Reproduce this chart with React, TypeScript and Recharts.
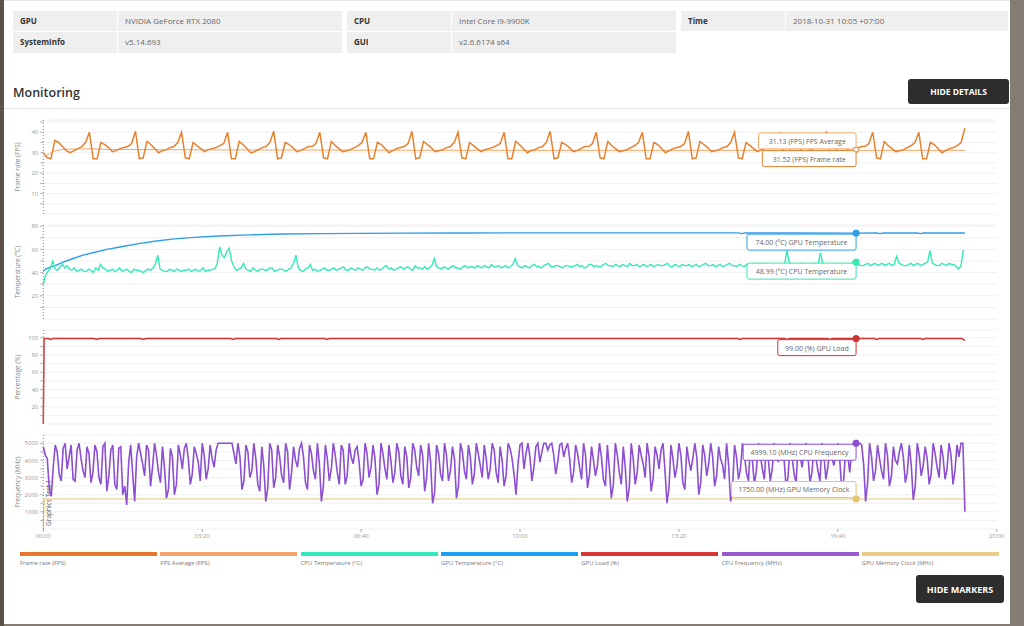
import React from "react";
import { LineChart, Line, XAxis, YAxis, CartesianGrid, ReferenceDot, ReferenceLine } from "recharts";

const FONT = '"Open Sans", "Noto Sans", sans-serif';

// header table
const infoLabels = [["GPU", "CPU", "Time"], ["SystemInfo", "GUI"]];
const infoValues = [["NVIDIA GeForce RTX 2080", "Intel Core i9-9900K", "2018-10-31 10:05 +07:00"], ["v5.14.693", "v2.6.6174 s64"]];

// time axis, seconds
const timeTicks = [0, 200, 400, 600, 800, 1000, 1200];
const markerTime = 1023;

// frame rate, one sample every 58/12 s
const fpsStep = 58 / 12;
const frameRate = [
  30, 27.5, 27, 36, 35, 33, 31, 30, 31, 32, 33, 35,
  40, 27, 27, 35, 34, 32.5, 30.5, 31, 32, 32.5, 33, 34.5,
  40.5, 27, 27.5, 35.5, 34, 32, 30, 31, 31.5, 32.5, 33, 35,
  40, 27.5, 27, 35, 33.5, 32, 30.5, 31.5, 32, 32.5, 33.5, 34.5,
  40, 27, 27, 35.5, 34, 32, 30, 30.5, 31.5, 32.5, 33, 35,
  40.5, 27, 27.5, 35, 34, 32.5, 30.5, 31, 32, 33, 33, 34.5,
  40, 27.5, 27, 35.5, 33.5, 32, 30.5, 31, 31.5, 32.5, 33.5, 35,
  40, 27, 27, 35, 34, 32, 30, 31, 32, 32.5, 33, 34.5,
  40.5, 27, 27.5, 35.5, 34, 32.5, 30.5, 31, 31.5, 32.5, 33, 35,
  40, 27.5, 27, 35, 33.5, 32, 30.5, 31.5, 32, 32.5, 33.5, 34.5,
  40, 27, 27, 35.5, 34, 32, 30, 31, 31.5, 32.5, 33, 35,
  40.5, 27, 27.5, 35, 34, 32.5, 30.5, 31, 32, 33, 33, 34.5,
  40, 27.5, 27, 35.5, 33.5, 32, 30.5, 31, 31.5, 32.5, 33.5, 35,
  40, 27, 27, 35, 34, 32, 30, 31, 32, 32.5, 33, 34.5,
  40.5, 27, 27.5, 35.5, 34, 32.5, 30.5, 31, 31.5, 32.5, 33, 35,
  40, 27.5, 27, 35, 33.5, 32, 30.5, 31.5, 32, 32.5, 33.5, 34.5,
  40, 27, 27, 35.5, 34, 32, 30, 31, 31.5, 32.5, 33, 35,
  40.5, 27, 27.5, 35, 34, 32.5, 30.5, 31, 32, 33, 33, 34.5,
  40, 27.5, 27, 35.5, 33.5, 32, 30.5, 31, 31.5, 32.5, 33.5, 35,
  40, 27, 27, 35, 34, 32, 30, 31, 32, 32.5, 33.5, 35,
  42,
];

const fpsAvgTime = [0, 3, 8, 15, 25, 40, 60, 80, 120, 200, 300, 450, 600, 800, 1023, 1160];
const fpsAvg = [30, 28.5, 29.5, 31, 31.6, 31.8, 31.9, 31.6, 31.5, 31.4, 31.3, 31.2, 31.15, 31.15, 31.13, 31.15];

// cpu temperature, one sample every 3 s (one line per minute)
const cpuTempStep = 3;
const cpuTemp = [
  30, 38, 41, 44, 50, 43, 42, 45, 47, 44, 46, 43, 42, 44, 41, 42, 43, 41, 41, 43,
  42, 40, 44, 42, 47, 44, 43, 41, 42, 43, 41, 42, 44, 41, 42, 43, 41, 40, 43, 42,
  42, 41, 40, 42, 43, 42, 44, 47, 55, 43, 42, 41, 41, 43, 42, 41, 43, 42, 41, 42,
  42, 43, 41, 42, 43, 41, 42, 44, 41, 42, 42, 43, 43, 48, 62, 55, 53, 58, 61, 50,
  45, 42, 43, 44, 48, 43, 42, 41, 44, 42, 41, 43, 43, 42, 42, 44, 44, 41, 42, 43,
  43, 42, 41, 43, 44, 48, 55, 44, 42, 41, 43, 44, 47, 42, 43, 41, 42, 43, 44, 42,
  42, 43, 44, 42, 43, 44, 45, 42, 42, 44, 43, 42, 44, 43, 42, 44, 45, 43, 43, 42,
  44, 42, 43, 45, 46, 43, 44, 42, 43, 44, 45, 43, 44, 45, 43, 42, 46, 44, 44, 43,
  45, 43, 44, 46, 52, 45, 44, 43, 45, 44, 43, 45, 46, 44, 44, 43, 45, 46, 44, 45,
  45, 44, 46, 45, 44, 46, 45, 44, 47, 45, 45, 46, 44, 45, 46, 44, 45, 47, 52, 46,
  45, 44, 46, 45, 44, 46, 47, 45, 45, 44, 46, 47, 48, 45, 45, 46, 46, 45, 44, 46,
  46, 45, 45, 46, 47, 45, 46, 44, 45, 47, 47, 45, 46, 45, 45, 47, 48, 46, 46, 45,
  47, 46, 45, 47, 46, 45, 48, 46, 46, 47, 45, 46, 47, 45, 46, 47, 45, 46, 47, 46,
  46, 47, 48, 45, 45, 47, 46, 45, 47, 46, 46, 47, 45, 46, 47, 45, 46, 47, 48, 46,
  46, 47, 45, 46, 47, 45, 46, 47, 48, 46, 46, 45, 47, 46, 45, 47, 46, 45, 47, 48,
  46, 45, 48, 46, 47, 46, 46, 47, 47, 46, 46, 47, 59, 48, 47, 46, 46, 47, 48, 46,
  47, 46, 46, 47, 48, 46, 57, 48, 47, 46, 46, 47, 47, 46, 48, 47, 46, 47, 47, 48,
  49, 47, 47, 46, 46, 47, 48, 46, 47, 48, 46, 47, 48, 46, 47, 48, 46, 47, 54, 48,
  47, 46, 46, 47, 48, 46, 47, 48, 46, 47, 48, 49, 59, 48, 47, 46, 46, 48, 47, 46,
  48, 47, 47, 45, 43, 46, 59.5,
];

const gpuTempTime = [0, 3, 8, 15, 25, 35, 50, 65, 80, 100, 120, 140, 165, 190, 220, 260, 300, 350, 400, 450, 520, 600, 700, 800, 875, 879, 883, 950, 1023, 1049, 1053, 1057, 1100, 1104, 1108, 1160];
const gpuTemp = [41, 43, 44.5, 46, 49, 51.5, 55, 57.5, 60, 62.5, 65, 67, 69, 70.3, 71.5, 72.5, 73.2, 73.6, 73.8, 74, 74.1, 74.2, 74.2, 74.2, 74.2, 73.6, 74.2, 74.1, 74, 74.1, 73.6, 74.1, 74.1, 73.6, 74.1, 74.1];

const gpuLoadTime = [0, 1, 6, 9, 12, 64, 67, 70, 123, 126, 129, 236, 239, 242, 293, 296, 299, 354, 357, 360, 874, 877, 880, 933, 936, 939, 987, 990, 993, 1046, 1049, 1052, 1104, 1107, 1110, 1156, 1160];
const gpuLoad = [0, 99, 99, 98, 99, 99, 98, 99, 99, 98, 99, 99, 98, 99, 99, 98, 99, 99, 98, 99, 99, 98, 99, 99, 98, 99, 99, 98, 99, 99, 98, 99, 99, 98, 99, 99, 97];

// cpu frequency, one sample every 2.5 s (one line per minute)
const cpuFreqStep = 2.5;
const cpuFreq = [
  4800, 4300, 4100, 2400, 1900, 3600, 4900, 4500, 3200, 2800, 4700, 5000, 3500, 4200, 4900, 2900, 2800, 4600, 5000, 4100, 3400, 3000, 4800, 4400,
  2700, 3300, 4900, 4500, 3000, 2600, 4800, 5000, 2200, 3100, 4600, 4900, 2600, 2300, 4700, 4800, 2000, 2500, 1400, 3900, 4900, 3200, 1600, 4200,
  5000, 4400, 3800, 3100, 4900, 4600, 2500, 3600, 5000, 4300, 3300, 2700, 4800, 3600, 1800, 2300, 4700, 4200, 2000, 2600, 4900, 4300, 3500, 4700,
  5000, 4100, 2600, 3200, 4800, 4400, 3900, 2800, 5000, 4300, 2900, 3500, 4900, 4100, 3600, 4600, 5000, 5000, 5000, 5000, 5000, 5000, 5000, 5000,
  4400, 3800, 5000, 4200, 2300, 2800, 4900, 4500, 3000, 3400, 5000, 4100, 2600, 2200, 4800, 3700, 1600, 2400, 5000, 4600, 2400, 3000, 4900, 4200,
  3100, 2700, 5000, 4500, 2300, 3300, 4800, 4000, 3600, 4700, 5000, 4200, 2700, 2300, 4900, 4400, 3400, 2900, 5000, 3800, 1600, 2500, 4900, 4100,
  2800, 3500, 5000, 4300, 3300, 2600, 4900, 4600, 2600, 3100, 5000, 4200, 3800, 4600, 4800, 3900, 2500, 2900, 5000, 4400, 3000, 3600, 4900, 4100,
  2000, 2600, 5000, 4400, 3500, 2900, 4900, 4000, 2700, 3300, 5000, 4500, 3100, 2600, 4800, 4200, 2400, 3000, 5000, 4600, 3600, 3100, 4900, 4300,
  2200, 3000, 5000, 3900, 1500, 2100, 4900, 4400, 3200, 2800, 5000, 4300, 2800, 3400, 4800, 4100, 1800, 2500, 5000, 4500, 3400, 2900, 4900, 4200,
  2600, 3200, 5000, 4400, 3700, 3000, 4900, 4100, 2900, 3500, 5000, 4600, 3300, 2700, 4800, 4000, 2500, 3100, 5000, 4700, 4100, 3200, 2000, 3800,
  4900, 5000, 3500, 4400, 5000, 4200, 2800, 3600, 4800, 5000, 3900, 4500, 5000, 5000, 4600, 4900, 5000, 4300, 3200, 3900, 4900, 5000, 4200, 4700,
  5000, 4100, 2700, 3300, 4900, 4400, 3600, 2900, 5000, 4300, 2400, 3200, 4800, 4000, 3100, 3700, 5000, 4200, 2900, 2500, 4900, 3500, 1800, 2600,
  5000, 4300, 3300, 2600, 4800, 3600, 1600, 2400, 5000, 4100, 2600, 3300, 4900, 4300, 3800, 3000, 5000, 4200, 2200, 2900, 4800, 4300, 3500, 4600,
  5000, 3400, 1500, 2400, 4900, 4100, 3000, 3600, 5000, 4300, 2700, 2300, 4800, 4000, 3400, 4100, 5000, 4200, 2000, 2700, 4900, 4300, 3100, 3800,
  5000, 4200, 2500, 3100, 4800, 4100, 3700, 2900, 5000, 3800, 1600, 2300, 4900, 4200, 2900, 3500, 5000, 4300, 3300, 2800, 4800, 4000, 2600, 3400,
  5000, 4300, 3500, 2900, 4900, 4100, 2800, 3500, 5000, 4400, 3900, 4500, 4800, 4000, 2400, 3100, 5000, 4200, 3200, 2700, 4900, 4300, 3600, 4400,
  5000, 4200, 2700, 3300, 4800, 4100, 3400, 2800, 5000, 4300, 2900, 3600, 4900, 4200, 3700, 4300, 5000, 4000, 2300, 2900, 4800, 4300, 3300, 4600,
  5000, 5000, 4999, 5000, 4900, 3800, 1600, 2700, 5000, 4200, 2800, 3400, 4900, 4100, 3400, 2900, 5000, 4300, 2500, 3100, 4800, 4000, 3800, 4500,
  5000, 4200, 2700, 3300, 4900, 3700, 1700, 2500, 5000, 4300, 3100, 3700, 4800, 4100, 2600, 3200, 5000, 4400, 3600, 3000, 4900, 4200, 2900, 3500,
  5000, 4300, 2600, 3400, 4900, 4200, 5000, 5000, 1000,
];

const memClockTime = [0, 1, 1160];
const memClock = [0, 1750, 1750];

// values shown in the marker boxes
const markerValues = [31.52, 31.13, 48.99, 74.0, 99.0, 4999.1, 1750.0];

const seriesNames = ["Frame rate", "FPS Average", "CPU Temperature", "GPU Temperature", "GPU Load", "CPU Frequency", "GPU Memory Clock"];
const seriesUnits = ["FPS", "FPS", "°C", "°C", "%", "MHz", "MHz"];
const lineColors = ["#e8812e", "#f2a868", "#35eab5", "#2f9ee6", "#cf3434", "#8c4fd2", "#e3c672"];
const legendColors = ["#e8772e", "#f4a46a", "#33e8bb", "#1da1f2", "#d93636", "#9b59d0", "#e9cd86"];

type Row = { t: number; v: number };
const stepped = (step: number, v: number[]): Row[] => v.map((y, i) => ({ t: i * step, v: y }));
const paired = (t: number[], v: number[]): Row[] => t.map((x, i) => ({ t: x, v: v[i] }));

const seriesRows: Row[][] = [
  stepped(fpsStep, frameRate),
  paired(fpsAvgTime, fpsAvg),
  stepped(cpuTempStep, cpuTemp),
  paired(gpuTempTime, gpuTemp),
  paired(gpuLoadTime, gpuLoad),
  stepped(cpuFreqStep, cpuFreq),
  paired(memClockTime, memClock),
];

const fmtTime = (s: number) =>
  `${String(Math.floor(s / 60)).padStart(2, "0")}:${String(s % 60).padStart(2, "0")}`;

// idx: series index, below: box under the dot
type PanelSeries = { idx: number; below: boolean; hollow?: boolean; width?: number };

const markerShape = (s: PanelSeries) => (p: any) => {
  const text = `${markerValues[s.idx].toFixed(2)} (${seriesUnits[s.idx]}) ${seriesNames[s.idx]}`;
  const w = text.length * 3.85 + 9;
  const h = 16;
  const y = s.below ? p.cy + 1 : p.cy - 1.5 - h;
  const c = lineColors[s.idx];
  return (
    <g>
      <rect x={p.cx - w} y={y} width={w} height={h} rx={2} fill="#fff" stroke={c} strokeWidth={1} />
      <text x={p.cx - w / 2} y={y + h / 2 + 0.5} textAnchor="middle" dominantBaseline="central" fontSize={7} fill="#666">
        {text}
      </text>
      <circle cx={p.cx} cy={p.cy} r={s.hollow ? 2.5 : 3.2} fill={s.hollow ? "#fff" : c} stroke={c} strokeWidth={1} />
    </g>
  );
};

const axisTitle = (text: string) => (props: any) => {
  const vb = props.viewBox;
  const cx = 17;
  const cy = vb.y + vb.height / 2;
  return (
    <text x={cx} y={cy} transform={`rotate(-90 ${cx} ${cy})`} textAnchor="middle" dominantBaseline="central" fontSize={6.5} fill="#888">
      {text}
    </text>
  );
};

type PanelProps = {
  top: number;
  max: number;
  ticks: number[];
  labelStep: number;
  title: string;
  series: PanelSeries[];
  xAxis?: boolean;
  testLabel?: string;
};

function Panel({ top, max, ticks, labelStep, title, series, xAxis, testLabel }: PanelProps) {
  return (
    <div style={{ position: "absolute", left: 0, top }}>
      <LineChart width={1024} height={xAxis ? 115 : 104} margin={{ top: 5, right: 27.3, bottom: xAxis ? 0 : 5, left: 0 }}>
        <CartesianGrid vertical={false} stroke="#f0f0f0" />
        <XAxis
          type="number"
          dataKey="t"
          domain={[0, 1200]}
          ticks={timeTicks}
          hide={!xAxis}
          interval={0}
          height={16}
          axisLine={false}
          tickSize={3}
          tickMargin={2}
          tickLine={{ stroke: "#aaa" }}
          tick={{ fontSize: 6, fill: "#999" }}
          tickFormatter={fmtTime}
        />
        <YAxis
          type="number"
          domain={[0, max]}
          ticks={ticks}
          interval={0}
          width={43.3}
          tickSize={3}
          tickMargin={2}
          tickLine={{ stroke: "#aaa" }}
          axisLine={{ stroke: "#888", strokeDasharray: "1 2" }}
          tick={{ fontSize: 6, fill: "#999" }}
          tickFormatter={(v: number) => (v % labelStep === 0 ? String(v) : "")}
          label={axisTitle(title)}
        />
        {testLabel && (
          <ReferenceLine
            x={0}
            strokeOpacity={0}
            label={(p: any) => {
              const x = p.viewBox.x + 5;
              const y = p.viewBox.y + p.viewBox.height - 3;
              return (
                <text x={x} y={y} transform={`rotate(-90 ${x} ${y})`} textAnchor="start" dominantBaseline="central" fontSize={6.5} fill="#555">
                  {testLabel}
                </text>
              );
            }}
          />
        )}
        {series.map((s) => (
          <Line
            key={s.idx}
            data={seriesRows[s.idx]}
            dataKey="v"
            type="linear"
            stroke={lineColors[s.idx]}
            strokeWidth={s.width ?? 1.4}
            dot={false}
            activeDot={false}
            isAnimationActive={false}
          />
        ))}
        {series.map((s) => (
          <ReferenceDot key={`m${s.idx}`} x={markerTime} y={markerValues[s.idx]} r={3} shape={markerShape(s)} ifOverflow="visible" />
        ))}
      </LineChart>
    </div>
  );
}

const cellBase: React.CSSProperties = {
  position: "absolute",
  background: "#efefef",
  fontSize: 8,
  lineHeight: "20px",
  paddingLeft: 7,
  boxSizing: "border-box",
  whiteSpace: "nowrap",
};

const buttonStyle: React.CSSProperties = {
  position: "absolute",
  background: "#2d2d2d",
  color: "#fff",
  fontWeight: 700,
  borderRadius: 3,
  display: "flex",
  alignItems: "center",
  justifyContent: "center",
};

export default function App() {
  const rowTops = [10.5, 32.3];
  return (
    <div style={{ position: "absolute", left: 0, top: 0, width: 1024, height: 626, background: "#857c74", fontFamily: FONT, overflow: "hidden" }}>
      <div style={{ position: "absolute", left: 0, top: 0, width: 4, height: 626, background: "#5e5148" }} />
      <div style={{ position: "absolute", left: 4, top: 0, width: 1006, height: 623, background: "#fff", borderTop: "1px solid #e6e6e6" }} />

      {infoLabels.map((row, r) =>
        row.map((lab, g) => (
          <React.Fragment key={`${r}-${g}`}>
            <div style={{ ...cellBase, left: 13 + g * 334, top: rowTops[r], width: 104, height: 20.5, fontWeight: 700, color: "#333" }}>{lab}</div>
            <div style={{ ...cellBase, left: 118 + g * 334, top: rowTops[r], width: g === 2 ? 222 : 224, height: 20.5, color: "#666" }}>
              {infoValues[r][g]}
            </div>
          </React.Fragment>
        ))
      )}

      <div style={{ position: "absolute", left: 13, top: 84, fontSize: 12.5, fontWeight: 600, color: "#333" }}>Monitoring</div>
      <div style={{ ...buttonStyle, left: 908, top: 79, width: 101, height: 25, fontSize: 8.5 }}>HIDE DETAILS</div>
      <div style={{ position: "absolute", left: 4, top: 108, width: 1006, height: 1, background: "#e4e4e4" }} />

      <Panel top={114.5} max={46} ticks={[5, 10, 15, 20, 25, 30, 35, 40, 45]} labelStep={10} title="Frame rate (FPS)"
        series={[{ idx: 1, below: false, hollow: true, width: 1 }, { idx: 0, below: true, hollow: true, width: 1.5 }]} />
      <Panel top={219.5} max={81} ticks={[10, 20, 30, 40, 50, 60, 70, 80]} labelStep={20} title="Temperature (°C)"
        series={[{ idx: 3, below: true }, { idx: 2, below: true, width: 1.4 }]} />
      <Panel top={324.5} max={109} ticks={[10, 20, 30, 40, 50, 60, 70, 80, 90, 100]} labelStep={20} title="Percentage (%)"
        series={[{ idx: 4, below: true, width: 1.5 }]} />
      <Panel top={429.5} max={5480} ticks={[500, 1000, 1500, 2000, 2500, 3000, 3500, 4000, 4500, 5000]} labelStep={1000} title="Frequency (MHz)"
        series={[{ idx: 6, below: false, width: 1.2 }, { idx: 5, below: true, width: 1.6 }]} xAxis testLabel="Graphics Test 1" />

      {seriesNames.map((n, i) => (
        <div key={n} style={{ position: "absolute", left: 20 + i * 140.3, top: 552, width: 137 }}>
          <div style={{ height: 3.5, background: legendColors[i] }} />
          <div style={{ fontSize: 6, lineHeight: "8px", color: "#777", marginTop: 3.5, whiteSpace: "nowrap" }}>{`${n} (${seriesUnits[i]})`}</div>
        </div>
      ))}

      <div style={{ ...buttonStyle, left: 916, top: 575, width: 88, height: 28, fontSize: 9 }}>HIDE MARKERS</div>
    </div>
  );
}
